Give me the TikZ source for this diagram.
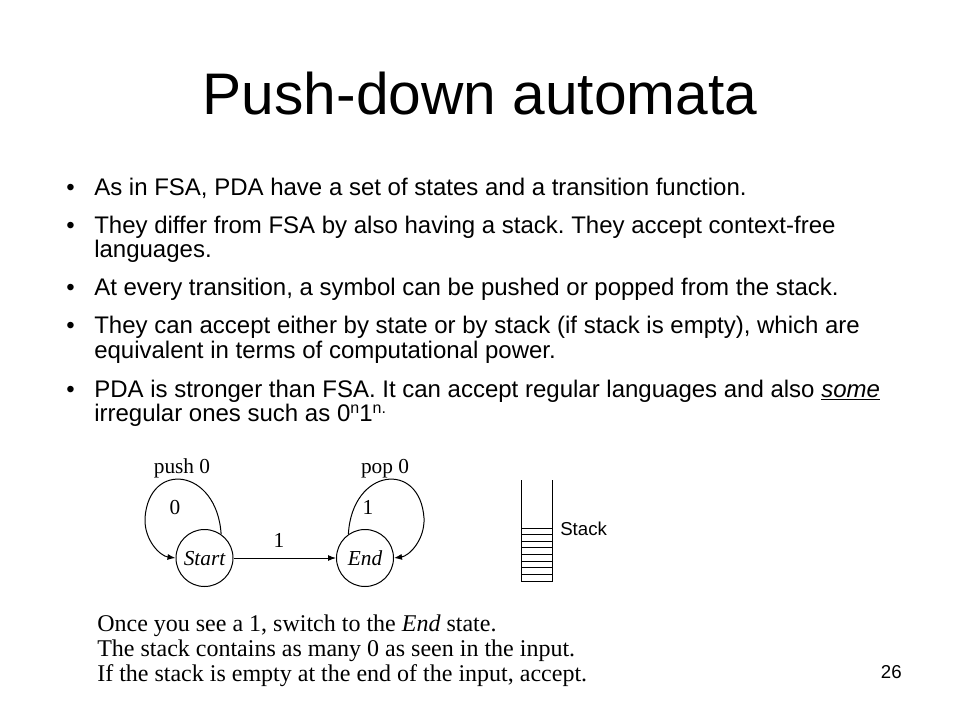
\documentclass[tikz,border=0pt]{standalone}
\usepackage{fontspec}
\setmainfont{Liberation Serif}
\setsansfont{Liberation Sans}
\usetikzlibrary{arrows.meta}
\frenchspacing
\begin{document}
\begin{tikzpicture}[x=0.75pt,y=-0.75pt,
  titletext/.style={anchor=base, inner sep=0, font=\fontsize{44}{44}\sffamily},
  bullettext/.style={anchor=base west, inner sep=0, font=\fontsize{18}{18}\sffamily\frenchspacing},
  notetext/.style={anchor=base west, inner sep=0, font=\fontsize{18}{18}\selectfont\frenchspacing},
  difftext/.style={inner sep=0, font=\fontsize{16}{16}\selectfont},
  statenode/.style={draw, circle, minimum size=42.75pt, inner sep=0, line width=0.75pt,
    text height=10.5pt, text depth=0pt, font=\fontsize{16}{16}\selectfont\itshape},
  edgearrow/.style={-{Latex[length=6pt,width=4.5pt]}, line width=0.75pt},
  stackline/.style={line width=0.75pt}]
\path[use as bounding box] (0,0) rectangle (960,720);

\node[titletext] (title) at (480,115) {Push-down automata};

\node[bullettext] (b1) at (66,196) {•};
\node[bullettext] (t1) at (94,196) {As in FSA, PDA have a set of states and a transition function.};
\node[bullettext] (b2) at (66,234) {•};
\node[bullettext] (t2a) at (94,234) {They differ from FSA by also having a stack. They accept context-free};
\node[bullettext] (t2b) at (94,258) {languages.};
\node[bullettext] (b3) at (66,296) {•};
\node[bullettext] (t3) at (94,296) {At every transition, a symbol can be pushed or popped from the stack.};
\node[bullettext] (b4) at (66,334) {•};
\node[bullettext] (t4a) at (94,334) {They can accept either by state or by stack (if stack is empty), which are};
\node[bullettext] (t4b) at (94,358) {equivalent in terms of computational power.};
\node[bullettext] (b5) at (66,397) {•};
\node[bullettext] (t5a) at (94,397) {PDA is stronger than FSA. It can accept regular languages and also \underline{\textit{some}}};
\node[bullettext] (t5b) at (94,421) {irregular ones such as 0\raisebox{0.3em}{\fontsize{12}{12}\selectfont n}1\raisebox{0.3em}{\fontsize{12}{12}\selectfont n.}};

% automaton
\node[statenode] (start) at (204.5,558) {Start};
\node[statenode] (end) at (365,558) {End};
\draw[edgearrow] (start) -- (end);
\node[difftext] (l1) at (279,540) {1};
\draw[edgearrow] (start.55) .. controls (217,468) and (149,460) .. (145,518)
  .. controls (144,540) and (160,556) .. (start.west);
\draw[edgearrow] (end.125) .. controls (352,468) and (420,460) .. (424,518)
  .. controls (425,540) and (409,556) .. (end.east);
\node[difftext] (l0) at (175,508) {0};
\node[difftext] (l2) at (368,507) {1};
\node[difftext, anchor=base] (push) at (182,473) {push 0};
\node[difftext, anchor=base] (pop) at (385,473) {pop 0};

% stack
\draw[stackline] (521,480) -- (521,581) -- (552,581) -- (552,480);
\foreach \k in {0,...,7} \draw[stackline] (521,{528+\k*6.625}) -- (552,{528+\k*6.625});
\node[inner sep=0, anchor=west, font=\fontsize{14}{14}\sffamily] (stacklabel) at (560,529) {Stack};

% notes
\node[notetext] (n1) at (97,631) {Once you see a 1, switch to the \textit{End} state.};
\node[notetext] (n2) at (97,656) {The stack contains as many 0 as seen in the input.};
\node[notetext] (n3) at (97,681) {If the stack is empty at the end of the input, accept.};

\node[inner sep=0, anchor=base east, font=\fontsize{14}{14}\sffamily] (pagenum) at (902,678) {26};
\end{tikzpicture}
\end{document}
